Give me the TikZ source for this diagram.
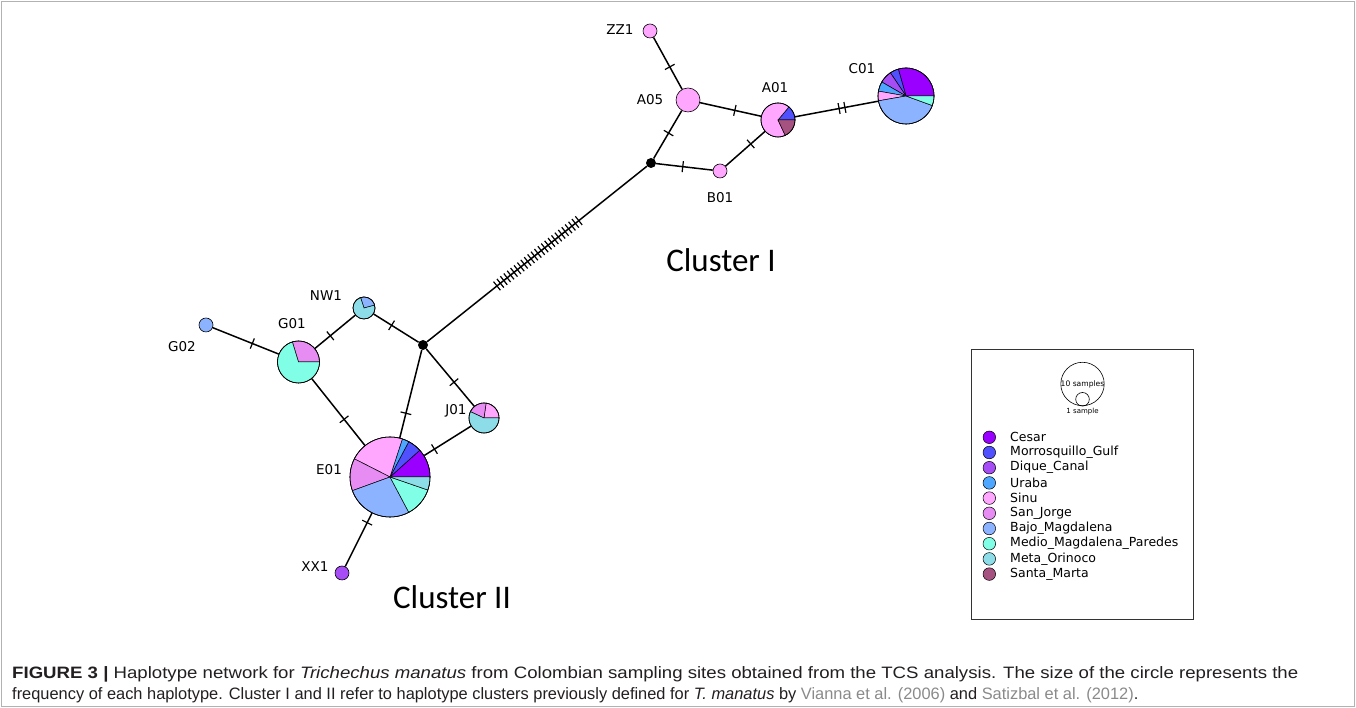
\documentclass[tikz,border=0pt]{standalone}
\usepackage{fontspec}
\usepackage{graphicx}
\setmainfont{DejaVu Sans}
\newfontfamily\clusterfont{Carlito}
\newfontfamily\capfont{Liberation Sans}
\usetikzlibrary{decorations.markings}

\definecolor{cesar}{HTML}{9900FF}
\definecolor{morro}{HTML}{5050FF}
\definecolor{dique}{HTML}{A64DF5}
\definecolor{uraba}{HTML}{4DA6FF}
\definecolor{sinu}{HTML}{FFA6FF}
\definecolor{sanjorge}{HTML}{E68CF2}
\definecolor{bajo}{HTML}{8CB3FF}
\definecolor{medio}{HTML}{80FFE6}
\definecolor{meta}{HTML}{8CDDE8}
\definecolor{santa}{HTML}{A65280}
\definecolor{captxt}{HTML}{231F20}
\definecolor{citegray}{HTML}{8A8A8A}

\newcommand\pieslice[5]{\filldraw[fill=#5, draw=black, line width=0.5pt] (#1) -- ++(#3:#2) arc[start angle=#3, end angle=#4, radius=#2] -- cycle;}

\tikzset{
  edge/.style={line width=1.5pt},
  hap/.style={circle, draw=black, line width=0.6pt, inner sep=0pt, minimum size={2*#1 pt}},
  dotnode/.style={circle, fill=black, inner sep=0pt, minimum size=10pt},
  lab/.style={font=\fontsize{13.5}{15}\selectfont, inner sep=0pt},
  tickat/.style={postaction={decorate, decoration={markings, mark=at position #1 with {\draw[line width=1.2pt] (0,-5.5pt)--(0,5.5pt);}}}},
  legtxt/.style={font=\fontsize{12.5}{14}\selectfont, anchor=west, inner sep=0pt},
  legdot/.style={circle, draw=black, line width=0.5pt, inner sep=0pt, minimum size=12.6pt},
  clus/.style={font=\clusterfont\fontsize{33}{36}\selectfont, inner sep=0pt},
}

\begin{document}
\begin{tikzpicture}[x=1pt, y=1pt]
\useasboundingbox (0,0) rectangle (1356,708);
\draw[gray!60, line width=1pt] (1.5,1.5) rectangle (1354.5,706.5);

% haplotype nodes
\node[hap=7, fill=sinu] (ZZ1) at (650,677) {};
\node[hap=12, fill=sinu] (A05) at (688,608) {};
\node[hap=17, fill=sinu] (A01) at (778,588) {};
\node[hap=28, fill=bajo] (C01) at (906,612) {};
\node[hap=7, fill=sinu] (B01) at (720,537) {};
\node[dotnode] (D1) at (651,545) {};
\node[dotnode] (D2) at (423,363) {};
\node[hap=11, fill=meta] (NW1) at (364,400) {};
\node[hap=21, fill=medio] (G01) at (298.5,346) {};
\node[hap=7, fill=bajo] (G02) at (206,383) {};
\node[hap=40, fill=bajo] (E01) at (390,231) {};
\node[hap=15, fill=meta] (J01) at (484,290) {};
\node[hap=7, fill=dique] (XX1) at (342,135) {};

% edges
\draw[edge, tickat=0.57] (ZZ1) -- (A05);
\draw[edge, tickat=0.57] (A05) -- (A01);
\draw[edge, tickat=0.47] (A05) -- (D1);
\draw[edge, tickat=0.47] (D1) -- (B01);
\draw[edge, tickat=0.64] (B01) -- (A01);
\draw[edge, tickat=0.53, tickat=0.60] (A01) -- (C01);
\draw[edge, postaction={decorate, decoration={markings, mark=between positions 0.31 and 0.685 step 0.0155 with {\draw[line width=1.2pt] (0,-5.5pt)--(0,5.5pt);}}}] (D1) -- (D2);
\draw[edge, tickat=0.6] (D2) -- (NW1);
\draw[edge, tickat=0.62] (NW1) -- (G01);
\draw[edge, tickat=0.6] (G02) -- (G01);
\draw[edge, tickat=0.61] (G01) -- (E01);
\draw[edge, tickat=0.72] (D2) -- (E01);
\draw[edge, tickat=0.58] (D2) -- (J01);
\draw[edge, tickat=0.78] (J01) -- (E01);
\draw[edge, tickat=0.18] (E01) -- (XX1);

% pies
\pieslice{A01.center}{17}{0}{50}{morro}
\pieslice{A01.center}{17}{50}{295}{sinu}
\pieslice{A01.center}{17}{295}{360}{santa}
\draw[line width=0.6pt] (A01.center) circle[radius=17];

\pieslice{C01.center}{28}{0}{106}{cesar}
\pieslice{C01.center}{28}{106}{124}{morro}
\pieslice{C01.center}{28}{124}{150}{dique}
\pieslice{C01.center}{28}{150}{170}{uraba}
\pieslice{C01.center}{28}{170}{190}{sinu}
\pieslice{C01.center}{28}{190}{340}{bajo}
\pieslice{C01.center}{28}{340}{360}{medio}
\draw[line width=0.6pt] (C01.center) circle[radius=28];

\pieslice{E01.center}{40}{0}{42}{cesar}
\pieslice{E01.center}{40}{42}{62}{morro}
\pieslice{E01.center}{40}{62}{72}{uraba}
\pieslice{E01.center}{40}{72}{153}{sinu}
\pieslice{E01.center}{40}{153}{200}{sanjorge}
\pieslice{E01.center}{40}{200}{298}{bajo}
\pieslice{E01.center}{40}{298}{341}{medio}
\pieslice{E01.center}{40}{341}{360}{meta}
\draw[line width=0.6pt] (E01.center) circle[radius=40];

\pieslice{G01.center}{21}{0}{107}{sanjorge}
\pieslice{G01.center}{21}{107}{360}{medio}
\draw[line width=0.6pt] (G01.center) circle[radius=21];

\pieslice{J01.center}{15}{0}{82}{sinu}
\pieslice{J01.center}{15}{82}{155}{sanjorge}
\pieslice{J01.center}{15}{155}{360}{meta}
\draw[line width=0.6pt] (J01.center) circle[radius=15];

\pieslice{NW1.center}{11}{15}{108}{bajo}
\pieslice{NW1.center}{11}{108}{375}{meta}
\draw[line width=0.6pt] (NW1.center) circle[radius=11];

% labels
\node[lab] (lZZ1) at (620,678) {ZZ1};
\node[lab] (lA05) at (650,608) {A05};
\node[lab] (lA01) at (775,620) {A01};
\node[lab] (lC01) at (862,639) {C01};
\node[lab] (lB01) at (720,510) {B01};
\node[lab] (lNW1) at (326,412) {NW1};
\node[lab] (lG01) at (292,384) {G01};
\node[lab] (lG02) at (182,361) {G02};
\node[lab] (lE01) at (329,238) {E01};
\node[lab] (lJ01) at (456,297) {J01};
\node[lab] (lXX1) at (315,141) {XX1};

\node[clus] (c1) at (721,448) {Cluster I};
\node[clus] (c2) at (452,111) {Cluster II};

% legend
\draw[line width=0.8pt, black!80] (971,359) rectangle (1193,89);
\draw[line width=0.6pt] (1082.5,324) circle[radius=21.7];
\draw[line width=0.6pt] (1082.5,308.7) circle[radius=6.8];
\node[font=\fontsize{7.6}{8}\selectfont, inner sep=0pt] (l10) at (1082.5,324) {10 samples};
\node[font=\fontsize{7}{8}\selectfont, inner sep=0pt] (l1) at (1082.5,296.3) {1 sample};

\foreach \c/\t [count=\i from 0] in {cesar/Cesar, morro/Morrosquillo\_Gulf, dique/Dique\_Canal, uraba/Uraba, sinu/Sinu, sanjorge/San\_Jorge, bajo/Bajo\_Magdalena, medio/Medio\_Magdalena\_Paredes, meta/Meta\_Orinoco, santa/Santa\_Marta}{
  \node[legdot, fill=\c] (ld\i) at (989.3, 270.7-15.2*\i) {};
  \node[legtxt] (lt\i) at (1010, 270.7-15.2*\i) {\t};
}

% caption
\node[anchor=base west, inner sep=0pt, text=captxt] (cap1) at (12,29) {\resizebox{1286pt}{\height}{\capfont\fontsize{16.5}{19}\selectfont\textbf{FIGURE 3 |} Haplotype network for \textit{Trichechus manatus} from Colombian sampling sites obtained from the TCS analysis. The size of the circle represents the}};
\node[anchor=base west, inner sep=0pt, text=captxt] (cap2) at (12,8) {\resizebox{1126pt}{\height}{\capfont\fontsize{16.5}{19}\selectfont frequency of each haplotype. Cluster I and II refer to haplotype clusters previously defined for \textit{T. manatus} by \textcolor{citegray}{Vianna et al. (2006)} and \textcolor{citegray}{Satizbal et al. (2012)}.}};
\end{tikzpicture}
\end{document}
